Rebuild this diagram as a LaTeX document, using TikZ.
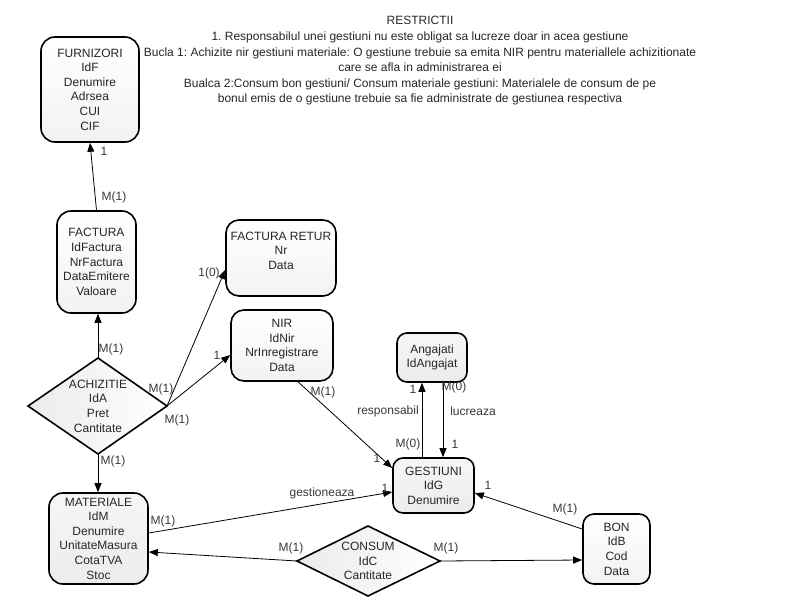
\documentclass[tikz,border=0pt]{standalone}
\usepackage{fontspec}
\setmainfont{Liberation Sans}
\usetikzlibrary{arrows.meta,calc}
\frenchspacing
\begin{document}
\begin{tikzpicture}[x=1pt,y=-1pt,
  txt/.style={font=\fontsize{12}{14.6}\selectfont, text=black!85},
  ent/.style={txt, draw, line width=1.6pt, rounded corners=14pt, align=center, inner sep=0pt,
    top color=white, bottom color=gray!10},
  entg/.style={ent, top color=gray!7, bottom color=gray!15},
  rel/.style={draw, line width=1.6pt, left color=gray!16, right color=white},
  con/.style={line width=0.8pt, -{Triangle[length=9pt,width=7pt]}},
  lbl/.style={txt, inner sep=0pt, text=black!78}]
\useasboundingbox (0,0) rectangle (800,600);

% restrictions
\node[txt, font=\fontsize{12}{15.6}\selectfont, align=center, inner sep=0pt] (restr) at (420,61)
 {RESTRICTII\\
  1. Responsabilul unei gestiuni nu este obligat sa lucreze doar in acea gestiune\\
  Bucla 1: Achizite nir gestiuni materiale: O gestiune trebuie sa emita NIR pentru materiallele achizitionate\\
  care se afla in administrarea ei\\
  Bualca 2:Consum bon gestiuni/ Consum materiale gestiuni: Materialele de consum de pe\\
  bonul emis de o gestiune trebuie sa fie administrate de gestiunea respectiva};

% entities
\node[ent, minimum width=98, minimum height=105] (furn) at (90,89.5)
 {FURNIZORI\\IdF\\Denumire\\Adrsea\\CUI\\CIF};
\node[ent, minimum width=79, minimum height=102] (fact) at (96.5,262)
 {FACTURA\\IdFactura\\NrFactura\\DataEmitere\\Valoare};
\node[ent, rounded corners=13pt, minimum width=110, minimum height=76] (fret) at (281,258)
 {FACTURA RETUR\\Nr\\Data\\ };
\node[ent, rounded corners=13pt, minimum width=102, minimum height=71] (nir) at (282,345.5)
 {NIR\\IdNir\\NrInregistrare\\Data};
\node[entg, rounded corners=10pt, minimum width=70, minimum height=49] (ang) at (432,357.5)
 {Angajati\\IdAngajat};
\node[entg, rounded corners=10pt, minimum width=81, minimum height=55] (gest) at (433.5,485.5)
 {GESTIUNI\\IdG\\Denumire};
\node[entg, minimum width=99, minimum height=91] (mat) at (98.5,538.5)
 {MATERIALE\\IdM\\Denumire\\UnitateMasura\\CotaTVA\\Stoc};
\node[ent, rounded corners=11pt, minimum width=67, minimum height=70] (bon) at (616.5,549)
 {BON\\IdB\\Cod\\Data};

% relationships (diamonds)
\coordinate (achT) at (98,358);
\coordinate (achR) at (167,406);
\coordinate (achB) at (98,454);
\coordinate (achL) at (28,406);
\draw[rel] (achT) -- (achR) -- (achB) -- (achL) -- cycle;
\node[txt, align=center, inner sep=0pt] (achiz) at (98,406) {ACHIZITIE\\IdA\\Pret\\Cantitate};

\coordinate (conT) at (368,526);
\coordinate (conR) at (440,561);
\coordinate (conB) at (368,596);
\coordinate (conL) at (297,561);
\draw[rel] (conT) -- (conR) -- (conB) -- (conL) -- cycle;
\node[txt, align=center, inner sep=0pt] (consum) at (368,561) {CONSUM\\IdC\\Cantitate};

% connectors
\draw[con] (fact.north) -- (furn.south);
\draw[con] (achT) -- (achT |- fact.south);
\draw[con] (achR) -- ($(fret.west)+(0,12)$);
\draw[con] (achR) -- ($(nir.west)+(0,9.5)$);
\draw[con] (achB) -- (achB |- mat.north);
\draw[con] ($(nir.south)+(16,0)$) -- ($(gest.west)+(0,-17.5)$);
\coordinate (gN1) at ($(gest.north)+(-11.5,0)$);
\draw[con] (gN1) -- (gN1 |- ang.south);
\coordinate (aS2) at ($(ang.south)+(11,0)$);
\draw[con] (aS2) -- (aS2 |- gest.north);
\draw[con] ($(mat.east)+(0,-5.5)$) -- ($(gest.west)+(0,6.5)$);
\draw[con] (conL) -- ($(mat.east)+(0,13.5)$);
\draw[con] (conR) -- ($(bon.west)+(0,11)$);
\draw[con] ($(bon.west)+(0,-20)$) -- ($(gest.east)+(0,7.5)$);

% labels
\node[lbl] (l1) at (104,151) {1};
\node[lbl] (l2) at (114,197) {M(1)};
\node[lbl] (l3) at (111,349) {M(1)};
\node[lbl] (l4) at (209,273) {1(0)};
\node[lbl] (l5) at (161,389) {M(1)};
\node[lbl] (l6) at (217,355) {1};
\node[lbl] (l7) at (177,420) {M(1)};
\node[lbl] (l8) at (113,461) {M(1)};
\node[lbl] (l9) at (323,392) {M(1)};
\node[lbl] (l10) at (377,458) {1};
\node[lbl] (l11) at (388,411) {responsabil};
\node[lbl] (l12) at (413,389) {1};
\node[lbl] (l13) at (408,444) {M(0)};
\node[lbl] (l14) at (454,387) {M(0)};
\node[lbl] (l15) at (473,411) {lucreaza};
\node[lbl] (l16) at (455,444) {1};
\node[lbl] (l17) at (322,493) {gestioneaza};
\node[lbl] (l18) at (385,488) {1};
\node[lbl] (l19) at (163,521) {M(1)};
\node[lbl] (l20) at (291,548) {M(1)};
\node[lbl] (l21) at (446,548) {M(1)};
\node[lbl] (l22) at (488,485) {1};
\node[lbl] (l23) at (565,509) {M(1)};
\end{tikzpicture}
\end{document}
